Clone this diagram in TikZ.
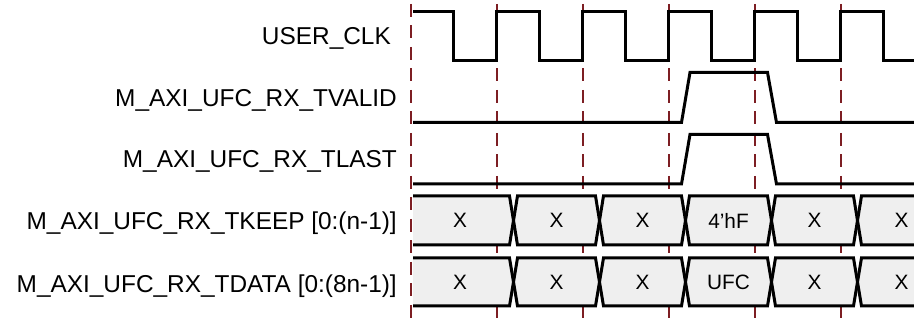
\documentclass[tikz,border=0pt]{standalone}
\usepackage{fontspec}
\setmainfont{Liberation Sans}
\definecolor{gridred}{RGB}{125,30,35}
\definecolor{busfill}{RGB}{239,239,239}
\begin{document}
\begin{tikzpicture}[x=1pt,y=-1pt,
  wave/.style={line width=3pt, line join=miter, draw=black},
  gridline/.style={draw=gridred, line width=2pt, dash pattern=on 13pt off 8.5pt},
  lbl/.style={anchor=base east, inner sep=0pt, font=\fontsize{24.4}{28}\selectfont},
  val/.style={inner sep=0pt, font=\fontsize{20.8}{24}\selectfont}]
\useasboundingbox (0,0) rectangle (914,320);

% labels
\node[lbl] (lclk)  at (391,45)    {USER\_CLK};
\node[lbl] (lval)  at (397,106.7) {M\_AXI\_UFC\_RX\_TVALID};
\node[lbl] (llast) at (397,167.3) {M\_AXI\_UFC\_RX\_TLAST};
\node[lbl] (lkeep) at (397,229.5) {M\_AXI\_UFC\_RX\_TKEEP [0:(n-1)]};
\node[lbl] (ldata) at (397,293)   {M\_AXI\_UFC\_RX\_TDATA [0:(8n-1)]};

% dashed clock grid
\foreach \x in {410.5,496.5,582.5,668.5,754.5,840.5}
  \draw[gridline] (\x,4) -- (\x,320);

% buses
\foreach \T/\M/\B/\row in {196/220.5/245/keep, 258/282/306/data}{
  \fill[busfill] (413,\T) -- (509.5,\T) -- (513.5,\M) -- (509.5,\B) -- (413,\B) -- cycle;
  \draw[wave] (413,\T) -- (509.5,\T) -- (513.5,\M) -- (509.5,\B) -- (413,\B);
  \foreach \c/\d in {513.5/599.5, 599.5/685.5, 685.5/771.5, 771.5/857.5}{
    \filldraw[wave, fill=busfill] (\c,\M) -- (\c+4,\T) -- (\d-4,\T) -- (\d,\M) -- (\d-4,\B) -- (\c+4,\B) -- cycle;
  }
  \fill[busfill] (914,\T) -- (861.5,\T) -- (857.5,\M) -- (861.5,\B) -- (914,\B) -- cycle;
  \draw[wave] (914,\T) -- (861.5,\T) -- (857.5,\M) -- (861.5,\B) -- (914,\B);
}
% bus values
\foreach \x/\t in {460/X, 556.5/X, 642.5/X, 728.5/4’hF, 814.5/X, 901.5/X}
  \node[val] at (\x,220.5) {\t};
\foreach \x/\t in {460/X, 556.5/X, 642.5/X, 728.5/UFC, 814.5/X, 901.5/X}
  \node[val] at (\x,282) {\t};

% clock
\draw[wave] (413,12) -- (453.5,12) -- (453.5,61) -- (496.5,61) -- (496.5,12)
  -- (539.5,12) -- (539.5,61) -- (582.5,61) -- (582.5,12)
  -- (625.5,12) -- (625.5,61) -- (668.5,61) -- (668.5,12)
  -- (711.5,12) -- (711.5,61) -- (754.5,61) -- (754.5,12)
  -- (797.5,12) -- (797.5,61) -- (840.5,61) -- (840.5,12)
  -- (883.5,12) -- (883.5,61) -- (914,61);

% TVALID
\draw[wave] (413,122.5) -- (681.5,122.5) -- (690,72.5) -- (767.5,72.5) -- (776.5,122.5) -- (914,122.5);
% TLAST
\draw[wave] (413,184) -- (681.5,184) -- (690,134.5) -- (767.5,134.5) -- (776.5,184) -- (914,184);
\end{tikzpicture}
\end{document}
